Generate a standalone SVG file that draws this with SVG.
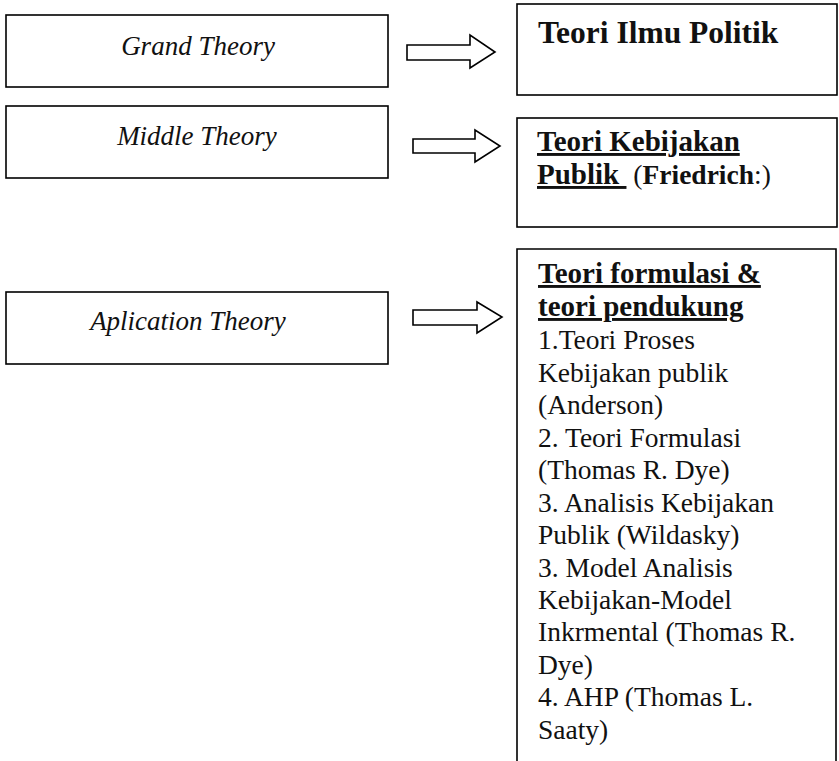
<svg xmlns="http://www.w3.org/2000/svg" width="839" height="761" viewBox="0 0 839 761">
<style>
.box{fill:#fff;stroke:#000;stroke-width:1.6}
.arr{fill:#fff;stroke:#000;stroke-width:1.6;stroke-linejoin:miter}
.lt{font-family:"Liberation Serif",serif;font-style:italic;font-size:27px;fill:#111;text-anchor:middle}
.rt{font-family:"Liberation Serif",serif;font-size:27.5px;fill:#111}
.b{font-weight:bold}
.h{font-family:"Liberation Serif",serif;font-weight:bold;font-size:29px;fill:#111}
.u{text-decoration:underline}
</style>
<rect width="839" height="761" fill="#fff"/>
<g id="grand">
<rect class="box" x="6" y="15" width="382" height="72"/>
<text class="lt" x="198" y="55">Grand Theory</text>
</g>
<g id="middle">
<rect class="box" x="6" y="106" width="382" height="72"/>
<text class="lt" x="197" y="145">Middle Theory</text>
</g>
<g id="aplication">
<rect class="box" x="6" y="292" width="382" height="72"/>
<text class="lt" x="188" y="330">Aplication Theory</text>
</g>
<g id="politik">
<rect class="box" x="517" y="4" width="320" height="91"/>
<text class="h" x="538" y="43" style="font-size:31.5px">Teori Ilmu Politik</text>
</g>
<g id="kebijakan">
<rect class="box" x="517" y="118" width="320" height="109"/>
<text class="h" x="537" y="151"><tspan class="u">Teori Kebijakan</tspan></text>
<text class="rt" x="537" y="184" xml:space="preserve"><tspan class="h u">Publik </tspan> (<tspan class="b">Friedrich</tspan>:)</text>
</g>
<g id="formulasi">
<path class="box" fill="none" d="M517,761 V249 H836 V761"/>
<text class="h" x="538" y="283"><tspan class="u">Teori formulasi &amp;</tspan></text>
<text class="h" x="538" y="316"><tspan class="u">teori pendukung</tspan></text>
<text class="rt" x="538" y="349">1.Teori Proses</text>
<text class="rt" x="538" y="381.5">Kebijakan publik</text>
<text class="rt" x="538" y="414">(Anderson)</text>
<text class="rt" x="538" y="446.5">2. Teori Formulasi</text>
<text class="rt" x="538" y="479">(Thomas R. Dye)</text>
<text class="rt" x="538" y="511.5">3. Analisis Kebijakan</text>
<text class="rt" x="538" y="544">Publik (Wildasky)</text>
<text class="rt" x="538" y="576.5">3. Model Analisis</text>
<text class="rt" x="538" y="609">Kebijakan-Model</text>
<text class="rt" x="538" y="641">Inkrmental (Thomas R.</text>
<text class="rt" x="538" y="673.5">Dye)</text>
<text class="rt" x="538" y="706">4. AHP (Thomas L.</text>
<text class="rt" x="538" y="738.5">Saaty)</text>
</g>
<g id="connectors">
<polygon class="arr" points="407,45 470,45 470,35 495,52 470,68 470,60 407,60"/>
<polygon class="arr" points="413,139 475,139 475,130 500,146 475,162 475,153 413,153"/>
<polygon class="arr" points="413,310 477,310 477,302 502,317 477,333 477,325 413,325"/>
</g>
</svg>
